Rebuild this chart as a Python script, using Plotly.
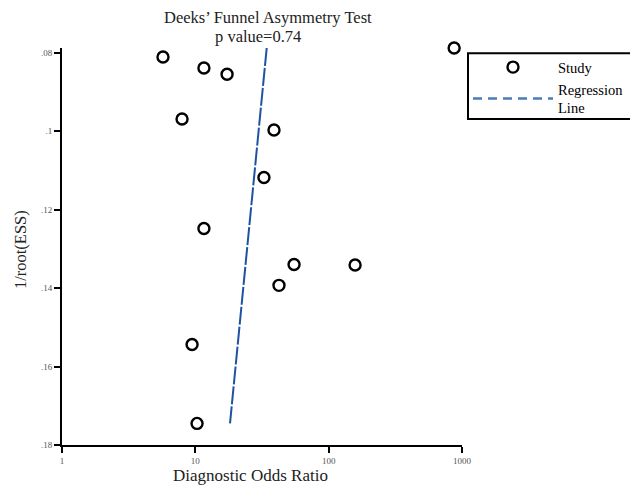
import plotly.graph_objects as go

# Study data (diagnostic odds ratio, 1/root(ESS))
dor = [5.72, 11.6, 17.3, 7.95, 38.9, 32.7, 11.6, 55.0, 42.4, 9.45, 10.3, 157.8, 873]
inv_root_ess = [0.0811, 0.0839, 0.0855, 0.0969, 0.0997, 0.1118, 0.1248,
                0.1340, 0.1393, 0.1544, 0.1745, 0.1341, 0.0788]

# Regression line end points
reg_x = [34.3, 18.2]
reg_y = [0.0788, 0.1745]

x_tick_vals = [1, 10, 100, 1000]
x_tick_text = ["1", "10", "100", "1000"]
y_tick_vals = [0.08, 0.10, 0.12, 0.14, 0.16, 0.18]
y_tick_text = [".08", ".1", ".12", ".14", ".16", ".18"]

SERIF = "Liberation Serif, Times New Roman, serif"
TXT = "#222"

fig = go.Figure()
fig.add_trace(go.Scatter(
    x=dor, y=inv_root_ess, mode="markers", name="Study", cliponaxis=False,
    marker=dict(symbol="circle-open", size=11, color="black",
                line=dict(width=2.4, color="black")),
))
fig.add_trace(go.Scatter(
    x=reg_x, y=reg_y, mode="lines", name="Regression<br>Line", showlegend=False,
    line=dict(color="#1f52a0", width=2, dash="18px,2px"),
))
fig.add_trace(go.Scatter(
    x=[None], y=[None], mode="lines", name="Regression<br>Line",
    line=dict(color="#4a7db8", width=2.5, dash="9px,6px"),
))

fig.update_layout(
    width=630, height=478,
    margin=dict(l=54, r=176, t=40, b=41, autoexpand=False),
    paper_bgcolor="white", plot_bgcolor="white",
    font=dict(family=SERIF, color="black"),
    showlegend=True,
    legend=dict(
        x=1.015, y=0.992, xanchor="left", yanchor="top",
        borderwidth=0, bgcolor="rgba(0,0,0,0)",
        font=dict(family=SERIF, size=14.5, color="black"),
        itemwidth=80, tracegroupgap=0,
    ),
    shapes=[
        dict(type="rect", xref="paper", yref="paper",
             x0=1.015, x1=1.6, y0=0.821, y1=0.987,
             line=dict(color="black", width=2), fillcolor="rgba(0,0,0,0)"),
    ],
    annotations=[
        dict(text="Deeks’ Funnel Asymmetry Test",
             xref="paper", yref="paper", x=0.515, y=1.0756,
             xanchor="center", yanchor="middle", showarrow=False,
             font=dict(family=SERIF, size=16.5, color=TXT)),
        dict(text="p value=0.74",
             xref="paper", yref="paper", x=0.49, y=1.0302,
             xanchor="center", yanchor="middle", showarrow=False,
             font=dict(family=SERIF, size=16.5, color=TXT)),
        dict(text="Diagnostic Odds Ratio",
             xref="paper", yref="paper", x=0.47, y=-0.078,
             xanchor="center", yanchor="middle", showarrow=False,
             font=dict(family=SERIF, size=17, color=TXT)),
        dict(text="1/root(ESS)", textangle=-90,
             xref="paper", yref="paper", x=-0.105, y=0.491,
             xanchor="center", yanchor="middle", showarrow=False,
             font=dict(family=SERIF, size=16.5, color=TXT)),
    ],
)
fig.update_xaxes(
    type="log", range=[0, 3],
    tickvals=x_tick_vals, ticktext=x_tick_text,
    showgrid=False, zeroline=False,
    showline=True, linecolor="black", linewidth=2,
    ticks="outside", ticklen=6, tickwidth=2, tickcolor="black",
    tickfont=dict(family=SERIF, size=9, color="#555"),
)
fig.update_yaxes(
    range=[0.18, 0.0788],
    tickvals=y_tick_vals, ticktext=y_tick_text,
    showgrid=False, zeroline=False,
    showline=True, linecolor="black", linewidth=2,
    ticks="outside", ticklen=6, tickwidth=2, tickcolor="black",
    tickfont=dict(family=SERIF, size=9, color="#555"),
)

fig.write_html("out.html")
